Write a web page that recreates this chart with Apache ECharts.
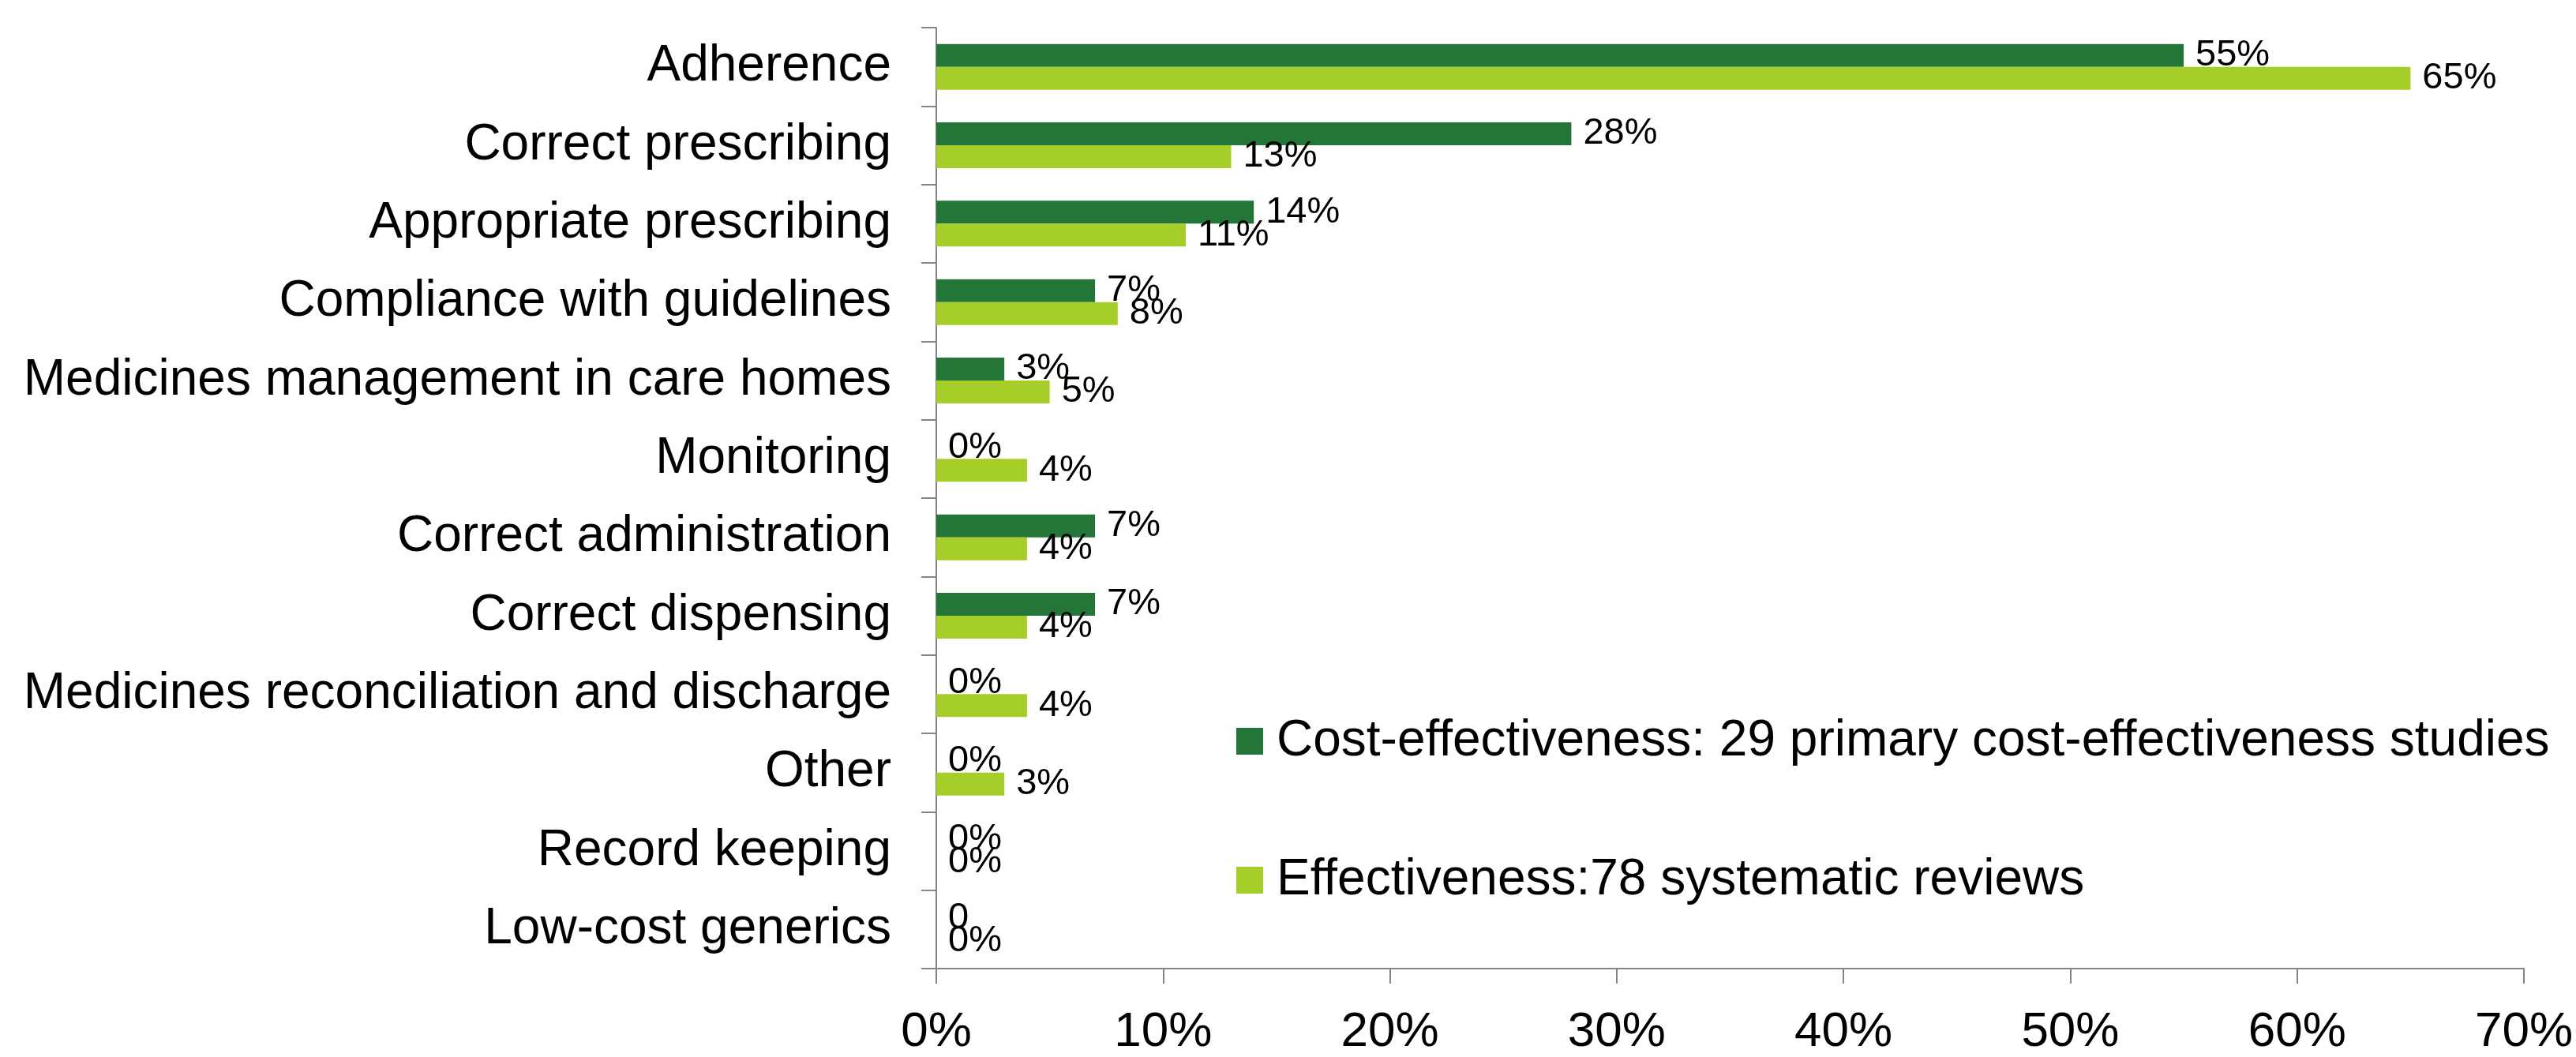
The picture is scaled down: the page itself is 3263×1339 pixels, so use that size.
<!DOCTYPE html>
<html>
<head>
<meta charset="utf-8">
<script src="https://cdn.jsdelivr.net/npm/echarts@6/dist/echarts.min.js"></script>
<style>
  html, body { margin: 0; padding: 0; background: #ffffff; }
  #chart { width: 3263px; height: 1339px; }
</style>
</head>
<body>
<div id="chart"></div>
<script>
// Intervention types, listed top to bottom
const categories = [
  'Adherence',
  'Correct prescribing',
  'Appropriate prescribing',
  'Compliance with guidelines',
  'Medicines management in care homes',
  'Monitoring',
  'Correct administration',
  'Correct dispensing',
  'Medicines reconciliation and discharge',
  'Other',
  'Record keeping',
  'Low-cost generics'
];

// Share of studies (%) per intervention type
const costEffectiveness = [55, 28, 14, 7, 3, 0, 7, 7, 0, 0, 0, 0];
const effectiveness     = [65, 13, 11, 8, 5, 4, 4, 4, 4, 3, 0, 0];

const seriesNames = [
  'Cost-effectiveness: 29 primary cost-effectiveness studies',
  'Effectiveness:78 systematic reviews'
];

// Value-axis tick labels
const xTicks = [0, 10, 20, 30, 40, 50, 60, 70];

// Categories whose cost-effectiveness label is printed without a percent sign
const plainCostLabels = ['Low-cost generics'];

const FONT = '"Liberation Sans", Arial, Helvetica, sans-serif';
const DARK = '#237638';
const LIGHT = '#A6CE28';
const AXIS = '#858585';

const chart = echarts.init(document.getElementById('chart'), null, { renderer: 'canvas' });

function labelFor(plainList) {
  return function (p) {
    if (plainList.indexOf(p.name) >= 0) return String(p.value);
    return p.value + '%';
  };
}

const barLabel = (plainList) => ({
  show: true,
  position: 'right',
  distance: 15,
  fontSize: 47,
  color: '#000',
  fontFamily: FONT,
  padding: [10, 0, 0, 0],
  formatter: labelFor(plainList)
});

chart.setOption({
  animation: false,
  backgroundColor: '#ffffff',
  textStyle: { fontFamily: FONT, color: '#000' },
  grid: { left: 1186, right: 66, top: 35, bottom: 111, containLabel: false },
  legend: {
    orient: 'vertical',
    left: 1561,
    top: 902,
    itemWidth: 34,
    itemHeight: 34,
    itemGap: 112,
    icon: 'rect',
    data: seriesNames,
    textStyle: { fontSize: 64, color: '#000', fontFamily: FONT, padding: [0, 0, 0, 12] }
  },
  xAxis: {
    type: 'value',
    min: xTicks[0],
    max: xTicks[xTicks.length - 1],
    interval: xTicks[1] - xTicks[0],
    axisLine: { show: true, lineStyle: { color: AXIS, width: 2 } },
    axisTick: { show: true, length: 19, lineStyle: { color: AXIS, width: 2 } },
    splitLine: { show: false },
    axisLabel: {
      formatter: '{value}%',
      fontSize: 62,
      color: '#000',
      fontFamily: FONT,
      margin: 50
    }
  },
  yAxis: {
    type: 'category',
    inverse: true,
    data: categories,
    axisLine: { show: true, lineStyle: { color: AXIS, width: 2 } },
    axisTick: { show: true, length: 19, lineStyle: { color: AXIS, width: 2 } },
    axisLabel: {
      fontSize: 64,
      color: '#000',
      fontFamily: FONT,
      margin: 57,
      padding: [12, 0, 0, 0]
    }
  },
  series: [
    {
      name: seriesNames[0],
      type: 'bar',
      data: costEffectiveness,
      itemStyle: { color: DARK },
      barGap: '0%',
      barWidth: 29,
      label: barLabel(plainCostLabels)
    },
    {
      name: seriesNames[1],
      type: 'bar',
      data: effectiveness,
      itemStyle: { color: LIGHT },
      barGap: '0%',
      barWidth: 29,
      label: barLabel([])
    }
  ]
});
</script>
</body>
</html>
